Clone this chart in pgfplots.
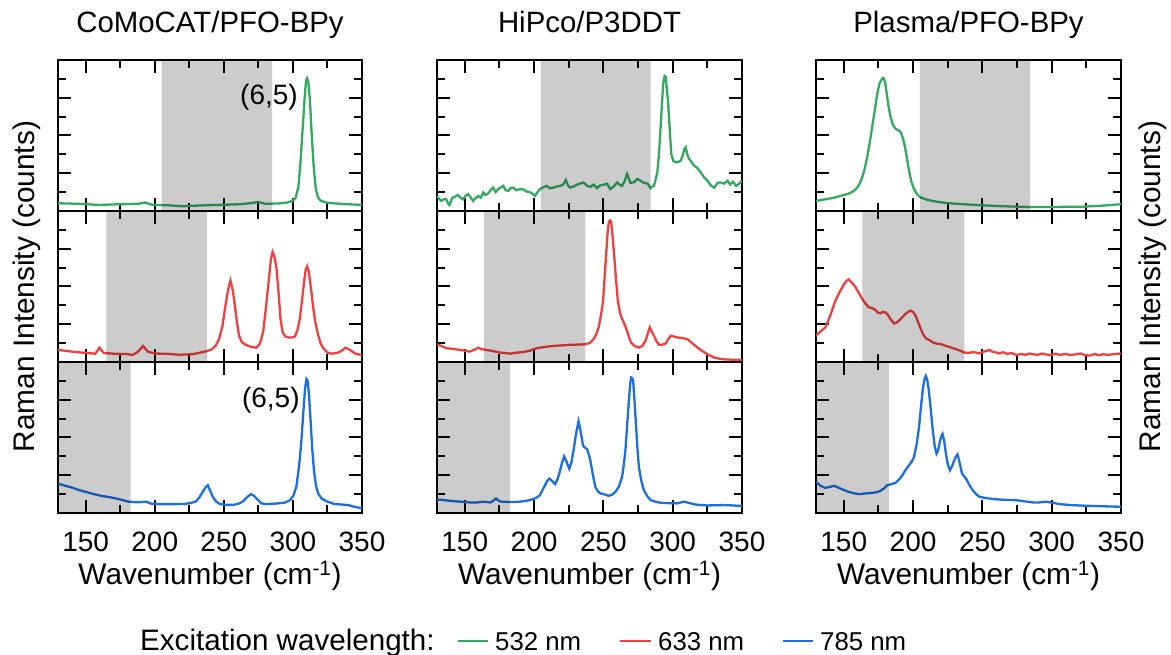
\documentclass[border=0pt]{standalone}
\usepackage{fontspec}
\setmainfont{Liberation Sans}
\usepackage{pgfplots}
\pgfplotsset{compat=1.18}
\usepackage{pgfplotstable}
\definecolor{cg}{HTML}{33AA60}
\definecolor{cr}{HTML}{F0403F}
\definecolor{cb}{HTML}{1C6FDE}
\newcommand{\bigf}{\fontsize{28}{30}\selectfont}
\newcommand{\labf}{\fontsize{29.8}{32}\selectfont}
\newcommand{\legf}{\fontsize{29.6}{31}\selectfont}
\newcommand{\entf}{\fontsize{25.8}{28}\selectfont}

\pgfplotstableread{
x y
130 0.41
145 0.38
160 0.32
175 0.36
188 0.38
193 0.45
198 0.33
210 0.30
220 0.25
235 0.30
250 0.33
262 0.36
270 0.42
275 0.48
280 0.38
290 0.40
296 0.45
300 0.55
302 0.7
304 1.3
305.5 2.6
307 4.3
308.5 6.0
309.5 6.9
310.3 7.02
311.2 6.8
312.3 5.9
313.5 4.2
315 2.4
316.5 1.2
318 0.75
320 0.55
324 0.45
330 0.40
340 0.36
350 0.32
}\cAg

\pgfplotstableread{
x y
130 0.64
140 0.55
150 0.48
157 0.44
160 0.76
163 0.48
170 0.44
180 0.42
184 0.37
188 0.55
191.5 0.85
195 0.55
200 0.45
210 0.43
218 0.38
228 0.42
237 0.56
241 0.66
244 0.85
246.5 1.2
249 1.9
251 2.9
253 3.8
254.8 4.32
256.5 3.8
258 3.0
259.5 2.1
261 1.4
263 1.05
266 0.9
270 0.8
273.5 0.76
276 0.95
278.5 1.6
280.5 2.9
282.5 4.3
284 5.4
285.3 5.83
286.6 5.6
288 5.03
289.5 3.8
291 2.3
292.5 1.6
294.5 1.35
297 1.3
299.5 1.3
301.5 1.35
303.5 1.75
305 2.3
306.5 3.2
308 4.2
309.3 4.9
310.3 5.07
311.5 4.8
313 3.95
314.5 3.0
316 2.2
318 1.5
320 1.0
322 0.72
325 0.5
328 0.44
332 0.48
335 0.58
338 0.76
341 0.65
345 0.45
350 0.36
}\cAr

\pgfplotstableread{
x y
130 1.56
135 1.45
140 1.35
145 1.22
150 1.12
156 1.0
162 0.9
168 0.83
172 0.77
177 0.68
181 0.6
187 0.57
191 0.58
194 0.6
197 0.5
205 0.47
215 0.47
222 0.48
227 0.55
230 0.62
232.5 0.85
235 1.15
237 1.38
238.4 1.47
240 1.2
242 0.86
244.5 0.6
247 0.48
252 0.43
257 0.43
261 0.5
264 0.62
267 0.85
269.7 1.0
272 0.9
274.5 0.7
277 0.52
280 0.47
288 0.5
294 0.55
298 0.68
300.5 0.95
302.5 1.4
304.5 2.5
306 3.7
307.5 5.3
308.8 6.6
309.8 7.1
310.7 7.0
311.7 6.2
312.8 4.9
314 3.4
315.3 2.2
316.8 1.4
318.5 1.0
321 0.75
325 0.6
330 0.48
335 0.45
340 0.42
345 0.32
350 0.25
}\cAb

\pgfplotstableread{
x y
130 0.8
131.5 0.65
133 0.53
135 0.62
136.7 0.62
138 0.4
139 0.32
141 0.7
143 0.75
145 0.85
147 0.7
148.8 0.62
150.5 0.8
152.4 0.89
154 0.75
156 0.53
158 0.7
159.7 0.8
161.5 0.7
163.3 0.98
165 0.85
166.9 0.92
168.5 1.1
170.5 1.24
172.3 1.0
174.2 1.16
176 1.25
177.8 1.33
179.5 1.1
181.4 1.07
183 1.2
185 1.24
187 1.1
189.9 1.16
192 1.15
194.7 1.03
197 1.0
199 0.9
200.7 0.8
202.5 1.0
204.3 1.16
206.5 1.25
209.2 1.33
211.5 1.2
214 1.24
216.5 1.3
218.8 1.33
221 1.4
222.9 1.64
224.5 1.35
226.1 1.24
228.5 1.3
230.9 1.39
233 1.45
235.7 1.51
238 1.35
240.6 1.28
243 1.4
245.4 1.21
247.5 1.35
250.2 1.39
252.5 1.45
255 1.16
257.5 1.3
259.9 1.51
261.5 1.4
263.5 1.33
265.5 1.6
267.1 1.96
269.5 1.5
272 1.51
274.5 1.7
276.8 1.6
279 1.5
281.6 1.46
283 1.35
284 1.21
285.5 1.3
286.5 1.33
287.8 1.7
288.9 2.04
290 2.9
291.3 4.44
292.3 5.7
293.2 6.76
294.2 7.15
295 7.1
296 6.3
296.6 5.87
297.8 4.4
299 3.02
300.5 2.65
302.2 2.58
304 2.6
305.8 2.67
307.5 3.0
308.5 3.3
309.4 3.38
310.5 3.0
311.8 2.76
313.5 2.6
315.5 2.4
317.5 2.3
320.3 2.04
322.5 1.8
325.1 1.6
327.5 1.35
330 1.24
332.5 1.5
334.8 1.51
337 1.45
339.6 1.6
341.5 1.4
343.5 1.55
345.7 1.33
348 1.45
350 1.6
}\cBg

\pgfplotstableread{
x y
130 0.94
133 0.85
136.7 0.73
141 0.7
146.4 0.64
150 0.6
153.6 0.55
157 0.65
159.7 0.76
162 0.68
165.7 0.64
170 0.58
175.4 0.5
179 0.48
182.6 0.44
187 0.49
192.3 0.53
197 0.6
201.9 0.73
208 0.8
214 0.85
220 0.88
226.1 0.91
231 0.92
237 0.94
240 1.0
243 1.21
245 1.5
246.6 1.83
248.3 2.5
249.8 3.25
251 4.6
252.2 5.92
253.2 7.0
254 7.43
254.8 7.5
255.6 7.43
256.5 6.8
257.5 5.92
259 4.5
260.4 3.25
262 2.6
263.5 2.28
265.3 2.0
267.1 1.65
268.5 1.3
270 1.03
272.5 0.85
275.6 0.76
278 0.85
280.4 1.12
282 1.5
283.5 1.83
285 1.6
286.5 1.39
288.3 1.1
290.1 0.91
292.5 0.92
294.9 0.98
296.8 1.2
298.6 1.39
301 1.35
303.4 1.3
307 1.27
310.6 1.21
314 1.0
317.9 0.76
321 0.6
325.1 0.41
330 0.23
334 0.17
337.2 0.14
343 0.12
350 0.11
}\cBr

\pgfplotstableread{
x y
130 0.72
135 0.68
141.5 0.63
147 0.6
153.6 0.56
158 0.55
163.3 0.6
166 0.58
168.6 0.56
170.5 0.65
172.5 0.77
174.5 0.65
176.6 0.6
183 0.58
189.9 0.6
195 0.65
199.5 0.74
202 0.82
204.3 0.95
206 1.2
207.9 1.47
209.5 1.7
211.1 1.82
213 1.7
215.2 1.53
217 1.8
218.8 2.26
220.3 2.7
221.7 3.0
223.5 2.7
225.4 2.35
227 2.7
228.5 3.32
230.3 4.2
232.1 4.86
233.7 4.3
235.3 3.58
236.8 3.45
238.2 3.4
239.5 3.1
240.6 2.79
242.5 2.0
244.2 1.39
246 1.15
247.8 1.04
251 0.98
253.9 0.91
256.5 0.98
258.7 1.12
261.2 1.4
263.5 1.91
264.8 2.6
265.9 3.32
267.2 4.7
268.4 5.95
269.3 6.8
270 7.18
270.8 7.15
271.5 7.0
272.4 6.0
273.2 5.07
274.4 3.6
275.6 2.44
277.4 1.7
279.2 1.21
281.6 0.9
284.1 0.68
287.5 0.6
291.3 0.54
297 0.52
303.4 0.51
306 0.56
308.2 0.6
311 0.55
315.5 0.46
320 0.42
325.1 0.4
331 0.41
337.2 0.42
343 0.4
350 0.37
}\cBb

\pgfplotstableread{
x y
130 0.53
135 0.6
141.5 0.68
147 0.78
153.6 0.92
157 1.05
159.7 1.24
161.5 1.45
163.3 1.78
165 2.2
166.9 2.84
168.7 3.6
170.5 4.44
172.3 5.3
174.2 6.22
175.8 6.75
177.3 6.97
178.2 7.05
179 7.02
180 6.75
180.7 6.4
182.2 5.6
183.8 4.98
185.5 4.55
187.4 4.36
189.3 4.28
191.1 4.18
192.7 3.85
194.2 3.38
195.7 2.75
197.1 2.13
198.8 1.55
200.7 1.16
203 0.88
205.6 0.71
209 0.62
214 0.53
220 0.46
226.1 0.41
238 0.35
250.2 0.3
262 0.26
274.4 0.23
286 0.21
298.6 0.21
310 0.22
322.7 0.23
336 0.28
350 0.36
}\cCg

\pgfplotstableread{
x y
130 1.39
133 1.6
136.7 1.83
140 2.4
144 3.25
147 3.7
150 4.1
152 4.3
153.6 4.37
156 4.2
158.5 3.96
161 3.65
163.3 3.34
165.7 3.1
168.1 2.9
170.5 2.85
172.9 2.76
174.5 2.62
176.6 2.58
178 2.66
179 2.63
180.3 2.62
181.4 2.54
183.5 2.3
186.2 2.04
188.5 2.1
191.1 2.28
194.5 2.55
197 2.68
198.3 2.72
200 2.65
201.9 2.45
203.7 2.1
205.6 1.74
207.4 1.45
209.2 1.26
212 1.15
214 1.05
216.4 0.98
220 0.95
223.7 0.85
227 0.78
230.9 0.68
234 0.6
237 0.5
240 0.48
243 0.52
245.4 0.5
248 0.45
251 0.55
253 0.58
255.1 0.64
257 0.55
260 0.5
262.3 0.46
265 0.52
268 0.42
271 0.48
274.4 0.37
278 0.42
281 0.38
284 0.45
286.5 0.41
290 0.38
293 0.45
296 0.4
299 0.36
302 0.44
306 0.38
310 0.43
313 0.37
317.9 0.41
321 0.45
324 0.36
327.5 0.34
331 0.42
334 0.36
337.2 0.41
341 0.38
345 0.42
350 0.45
}\cCr

\pgfplotstableread{
x y
130 1.65
133 1.45
136.7 1.33
140 1.38
143 1.44
146 1.35
150 1.22
153.6 1.12
157 1.05
160.9 1.0
165 1.03
170.5 1.07
174 1.1
176.6 1.18
179 1.3
181.4 1.47
184 1.52
187.4 1.6
190 1.78
192.3 2.0
194.8 2.3
197.1 2.53
199 2.72
200.7 2.96
202.5 3.6
204.3 4.54
205.8 5.7
207.2 6.65
208.3 7.1
209.2 7.26
210.1 7.1
211.1 6.65
212.5 5.7
214 4.54
215.5 3.6
216.9 3.14
218 3.3
219.3 3.75
220.3 4.05
221.3 4.19
222.5 3.8
223.7 3.14
225 2.6
226.6 2.26
228 2.45
229.7 2.79
231 3.0
232.1 3.1
233.5 2.7
235.3 2.09
236.8 1.95
238.2 1.82
240.5 1.5
243 1.21
245.5 1.0
247.8 0.86
252 0.8
257.5 0.74
265 0.7
274.4 0.68
280 0.62
286.5 0.56
291 0.56
296.1 0.6
300 0.55
305.8 0.47
314 0.42
322.7 0.39
335 0.36
350 0.33
}\cCb

\pgfplotsset{
  panel/.style={scale only axis, width=304pt, height=151pt,
    xmin=130, xmax=350, ymin=0, ymax=8,
    xtick={150,200,250,300,350}, minor x tick num=1,
    ytick={0,2,4,6,8}, minor y tick num=1, yticklabels={},
    tick align=inside, major tick length=13pt, minor tick length=8pt,
    every tick/.style={black, line width=2pt},
    axis line style={line width=2.2pt},
    /pgf/number format/assume math mode=true,
    ticklabel style={font=\bigf},
    xticklabel style={anchor=base, yshift=-39pt, inner sep=0pt},
    title style={font=\fontsize{29.4}{31}\selectfont, at={(0.5,1)}, anchor=base, yshift=21.7pt, inner sep=0pt},
    xlabel style={font=\labf, at={(axis description cs:0.5,0)}, anchor=base, yshift=-72pt, inner sep=0pt},
    ylabel style={font=\labf, anchor=base, inner sep=0pt},
    anchor=south west},
  nolab/.style={xticklabels={}},
  spec/.style={line width=2.3pt, no markers, forget plot},
  shade/.style={fill=black, fill opacity=0.2, draw=none, forget plot},
}

\begin{document}
\begin{tikzpicture}
\useasboundingbox (0,0) rectangle (1171pt,655pt);

% ---------- Column 1 ----------
\begin{axis}[panel, nolab, at={(58pt,444pt)}, title={CoMoCAT/PFO-BPy}]
\addplot[spec, cg] table {\cAg};
\addplot[shade] coordinates {(205,0) (205,8) (285,8) (285,0)} \closedcycle;
\node[anchor=east, font=\bigf, inner sep=0pt] at (axis cs:303.7,6.03) {(6,5)};
\end{axis}
\begin{axis}[panel, nolab, at={(58pt,293pt)}, ylabel={Raman Intensity (counts)},
  ylabel style={at={(axis description cs:-0.0757,0.5)}}]
\addplot[spec, cr] table {\cAr};
\addplot[shade] coordinates {(165,0) (165,8) (238,8) (238,0)} \closedcycle;
\end{axis}
\begin{axis}[panel, at={(58pt,142pt)}, xlabel={Wavenumber (cm\textsuperscript{-1})}]
\addplot[spec, cb] table {\cAb};
\addplot[shade] coordinates {(130,0) (130,8) (182.5,8) (182.5,0)} \closedcycle;
\node[anchor=east, font=\bigf, inner sep=0pt] at (axis cs:305,5.95) {(6,5)};
\end{axis}

% ---------- Column 2 ----------
\begin{axis}[panel, nolab, width=305pt, at={(437pt,444pt)}, title={HiPco/P3DDT}]
\addplot[spec, cg] table {\cBg};
\addplot[shade] coordinates {(205,0) (205,8) (284,8) (284,0)} \closedcycle;
\end{axis}
\begin{axis}[panel, nolab, width=305pt, at={(437pt,293pt)}]
\addplot[spec, cr] table {\cBr};
\addplot[shade] coordinates {(164,0) (164,8) (237,8) (237,0)} \closedcycle;
\end{axis}
\begin{axis}[panel, width=305pt, at={(437pt,142pt)}, xlabel={Wavenumber (cm\textsuperscript{-1})}]
\addplot[spec, cb] table {\cBb};
\addplot[shade] coordinates {(130,0) (130,8) (182.5,8) (182.5,0)} \closedcycle;
\end{axis}

% ---------- Column 3 ----------
\begin{axis}[panel, nolab, width=305pt, at={(816pt,444pt)}, title={Plasma/PFO-BPy}]
\addplot[spec, cg] table {\cCg};
\addplot[shade] coordinates {(205,0) (205,8) (284.5,8) (284.5,0)} \closedcycle;
\end{axis}
\begin{axis}[panel, nolab, width=305pt, at={(816pt,293pt)}, ylabel={Raman Intensity (counts)},
  ylabel style={at={(axis description cs:1.13,0.5)}}]
\addplot[spec, cr] table {\cCr};
\addplot[shade] coordinates {(163.5,0) (163.5,8) (237,8) (237,0)} \closedcycle;
\end{axis}
\begin{axis}[panel, width=305pt, at={(816pt,142pt)}, xlabel={Wavenumber (cm\textsuperscript{-1})}]
\addplot[spec, cb] table {\cCb};
\addplot[shade] coordinates {(130,0) (130,8) (182.5,8) (182.5,0)} \closedcycle;
\end{axis}

% ---------- Legend (key) ----------
\node[anchor=base west, font=\legf, inner sep=0pt] at (140pt,4pt) {Excitation wavelength:};
\draw[cg, line width=2.6pt] (458pt,14pt) -- (488pt,14pt);
\node[anchor=base west, font=\entf, inner sep=0pt] at (495pt,4pt) {532 nm};
\draw[cr, line width=2.6pt] (620pt,14pt) -- (651pt,14pt);
\node[anchor=base west, font=\entf, inner sep=0pt] at (658pt,4pt) {633 nm};
\draw[cb, line width=2.6pt] (783pt,14pt) -- (813pt,14pt);
\node[anchor=base west, font=\entf, inner sep=0pt] at (820pt,4pt) {785 nm};
\end{tikzpicture}
\end{document}
